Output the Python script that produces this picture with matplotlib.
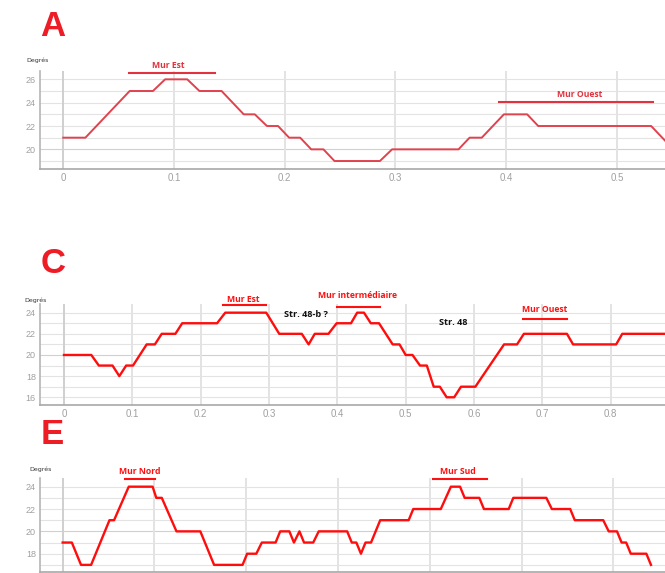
import matplotlib.pyplot as plt

# Panel A data
a_x = [0, 0.020, 0.060, 0.081, 0.092, 0.112, 0.123, 0.143, 0.163, 0.173, 0.184, 0.194,
       0.204, 0.214, 0.224, 0.235, 0.245, 0.286, 0.297, 0.357, 0.367, 0.378, 0.398,
       0.419, 0.429, 0.531, 0.551]
a_y = [21, 21, 25, 25, 26, 26, 25, 25, 23, 23, 22, 22,
       21, 21, 20, 20, 19, 19, 20, 20, 21, 21, 23,
       23, 22, 22, 20]

# Panel C data
c_x = [0, 0.040, 0.051, 0.071, 0.081, 0.091, 0.101, 0.121, 0.133, 0.143, 0.163, 0.173,
       0.224, 0.236, 0.296, 0.315, 0.348, 0.358, 0.367, 0.387, 0.399, 0.420, 0.429,
       0.439, 0.449, 0.461, 0.481, 0.491, 0.500, 0.510, 0.521, 0.531, 0.541, 0.550,
       0.560, 0.571, 0.581, 0.602, 0.644, 0.663, 0.673, 0.736, 0.745, 0.808, 0.817, 0.90]
c_y = [20, 20, 19, 19, 18, 19, 19, 21, 21, 22, 22, 23,
       23, 24, 24, 22, 22, 21, 22, 22, 23, 23, 24,
       24, 23, 23, 21, 21, 20, 20, 19, 19, 17, 17,
       16, 16, 17, 17, 21, 21, 22, 22, 21, 21, 22, 22]

# Panel E data
e_x = [0, 0.010, 0.020, 0.031, 0.051, 0.056, 0.072, 0.098, 0.102, 0.108, 0.124, 0.150,
       0.165, 0.196, 0.201, 0.211, 0.217, 0.232, 0.237, 0.247, 0.252, 0.258, 0.263,
       0.273, 0.279, 0.310, 0.315, 0.320, 0.325, 0.330, 0.336, 0.346, 0.377, 0.382,
       0.412, 0.423, 0.433, 0.438, 0.454, 0.459, 0.486, 0.491, 0.527, 0.533, 0.553,
       0.558, 0.589, 0.595, 0.604, 0.609, 0.614, 0.619, 0.636, 0.641]
e_y = [19, 19, 17, 17, 21, 21, 24, 24, 23, 23, 20, 20,
       17, 17, 18, 18, 19, 19, 20, 20, 19, 20, 19,
       19, 20, 20, 19, 19, 18, 19, 19, 21, 21, 22,
       22, 24, 24, 23, 23, 22, 22, 23, 23, 22, 22,
       21, 21, 20, 20, 19, 19, 18, 18, 17]

W, H = 665, 573
fig = plt.figure(figsize=(W / 100, H / 100), dpi=100)

grid_c = '#e3e3e3'
tick_c = '#a0a0a0'
ann_font = 'Open Sans'


def px_axes(left, top, bottom):
    return fig.add_axes([left / W, 1 - bottom / H, (W - left) / W, (bottom - top) / H])


def style(ax, xlim, ylim, yticks, xticks, show_x=True):
    ax.set_xlim(*xlim)
    ax.set_ylim(*ylim)
    for s in ['top', 'right']:
        ax.spines[s].set_visible(False)
    ax.spines['left'].set_color('#b5b5b5')
    ax.spines['left'].set_linewidth(1.2)
    ax.spines['bottom'].set_color('#a8a8a8')
    ax.spines['bottom'].set_linewidth(1.2)
    lo = int(ylim[0]) + 1
    for v in range(lo, int(ylim[1]) + 1):
        col = '#d0d0d0' if v == 20 else grid_c
        ax.axhline(v, color=col, lw=0.8, zorder=0)
    for v in xticks:
        ax.axvline(v, color='#cfcfcf' if v == 0 else grid_c, lw=1.4, zorder=0)
    ax.set_yticks(yticks)
    ax.set_yticklabels([str(t) for t in yticks])
    ax.set_xticks(xticks)
    ax.set_xticklabels(['0' if t == 0 else f'{t:.1f}' for t in xticks])
    ax.tick_params(length=0, colors=tick_c, labelsize=6.5, pad=3)
    ax.tick_params(axis='x', labelsize=7)
    for lab in ax.get_xticklabels() + ax.get_yticklabels():
        lab.set_fontfamily('Liberation Sans')
    if not show_x:
        ax.tick_params(labelbottom=False)


def mur(ax, x0, x1, y_line, xt, y_text, label, color):
    ax.plot([x0, x1], [y_line, y_line], color=color, lw=1.5, clip_on=False)
    ax.text(xt, y_text, label, color=color, fontsize=6.2, fontweight='bold',
            family=ann_font, ha='center', va='center', clip_on=False)


# Panel A
axA = px_axes(40, 70.7, 169.3)
style(axA, (-0.021, 0.5435), (18.29, 26.74), [20, 22, 24, 26],
      [0, 0.1, 0.2, 0.3, 0.4, 0.5])
axA.plot(a_x, a_y, color='#e0424e', lw=1.4)
mur(axA, 0.059, 0.137, 26.54, 0.0945, 27.17, 'Mur Est', '#e0333f')
mur(axA, 0.394, 0.533, 24.08, 0.466, 24.71, 'Mur Ouest', '#e0333f')

# Panel C
axC = px_axes(40, 304, 405)
style(axC, (-0.0351, 0.8795), (15.27, 24.82), [16, 18, 20, 22, 24],
      [0, 0.1, 0.2, 0.3, 0.4, 0.5, 0.6, 0.7, 0.8])
axC.plot(c_x, c_y, color='#ff0d0d', lw=1.7)
mur(axC, 0.233, 0.2956, 24.7, 0.2625, 25.23, 'Mur Est', '#ff1010')
mur(axC, 0.399, 0.4624, 24.51, 0.430, 25.58, 'Mur intermédiaire', '#ff1010')
mur(axC, 0.671, 0.7356, 23.4, 0.704, 24.26, 'Mur Ouest', '#ff1010')
axC.text(0.354, 23.85, 'Str. 48-b ?', fontsize=6.6, fontweight='bold', family=ann_font,
         ha='center', va='center', color='#111111')
axC.text(0.569, 23.05, 'Str. 48', fontsize=6.6, fontweight='bold', family=ann_font,
         ha='center', va='center', color='#111111')

# Panel E
axE = px_axes(40, 478.3, 571.7)
style(axE, (-0.0247, 0.6563), (16.39, 24.75), [18, 20, 22, 24],
      [0, 0.1, 0.2, 0.3, 0.4, 0.5, 0.6], show_x=False)
axE.plot(e_x, e_y, color='#ff0d0d', lw=1.7)
mur(axE, 0.068, 0.1006, 24.69, 0.0842, 25.34, 'Mur Nord', '#ff1010')
mur(axE, 0.4032, 0.462, 24.69, 0.431, 25.34, 'Mur Sud', '#ff1010')

# Panel letters and unit labels
for letter, yc in [('A', 26.7), ('C', 263.7), ('E', 434.5)]:
    fig.text(52.7 / W, 1 - yc / H, letter, fontsize=25, fontweight='bold',
             family='Liberation Sans', color='#ee1c25', ha='center', va='center')
for xl, yc in [(26, 60.7), (24, 300), (29, 469)]:
    fig.text(xl / W, 1 - yc / H, 'Degrés', fontsize=4.5, color='#333333',
             ha='left', va='center')

fig.savefig('out.png', dpi=100)
